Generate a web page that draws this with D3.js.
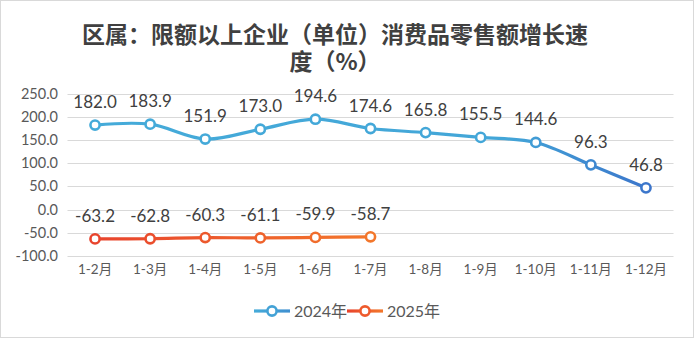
<!DOCTYPE html>
<html><head><meta charset="utf-8">
<script src="https://cdn.jsdelivr.net/npm/d3@7"></script>
<style>
html,body{margin:0;padding:0;background:#fff;}
svg{display:block;}
</style></head>
<body>
<svg id="chart" width="694" height="338"></svg>
<script>
const categories = ["1-2月","1-3月","1-4月","1-5月","1-6月","1-7月","1-8月","1-9月","1-10月","1-11月","1-12月"];
const values2024 = [182.0,183.9,151.9,173.0,194.6,174.6,165.8,155.5,144.6,96.3,46.8];
const values2025 = [-63.2,-62.8,-60.3,-61.1,-59.9,-58.7];
const yTicks = [-100,-50,0,50,100,150,200,250];
const seriesNames = ["2024年","2025年"];
const titleLines = ["区属：限额以上企业（单位）消费品零售额增长速","度（%）"];

const svg = d3.select("#chart");
const W = 694, H = 338;
const font = "Lato, 'Noto Sans CJK SC', sans-serif";
const fmt = d => (+d).toFixed(1);

svg.append("rect").attr("x",0.5).attr("y",0.5).attr("width",W-1).attr("height",H-1)
  .attr("fill","#fff").attr("stroke","#d9d9d9");

const defs = svg.append("defs");
const gBlue = defs.append("linearGradient").attr("id","gBlue").attr("gradientUnits","userSpaceOnUse")
  .attr("x1",68).attr("x2",675).attr("y1",0).attr("y2",0);
gBlue.append("stop").attr("offset","0").attr("stop-color","#45abd9");
gBlue.append("stop").attr("offset","0.72").attr("stop-color","#43a6d8");
gBlue.append("stop").attr("offset","1").attr("stop-color","#3a6cc8");
const gRed = defs.append("linearGradient").attr("id","gRed").attr("gradientUnits","userSpaceOnUse")
  .attr("x1",90).attr("x2",380).attr("y1",0).attr("y2",0);
gRed.append("stop").attr("offset","0").attr("stop-color","#e8432d");
gRed.append("stop").attr("offset","1").attr("stop-color","#f3782b");

const x = d3.scaleBand().domain(categories).range([67.5, 673.5]);
const y = d3.scaleLinear().domain([-100,250]).range([256,93.5]);
const cx = d => x(d) + x.bandwidth()/2;

// gridlines
svg.append("g").selectAll("line").data(yTicks).join("line")
  .attr("x1",67.5).attr("x2",673.5)
  .attr("y1",d=>Math.round(y(d))+0.5).attr("y2",d=>Math.round(y(d))+0.5)
  .attr("stroke","#d9d9d9").attr("stroke-width",1);

// y axis labels
const yAxis = d3.axisLeft(y).tickValues(yTicks).tickFormat(fmt).tickSize(0).tickPadding(0);
const ya = svg.append("g").attr("transform","translate(58,0)").call(yAxis);
ya.select(".domain").remove();
ya.selectAll("text").attr("font-family",font).attr("font-size",14.5).attr("fill","#595959");

// x axis labels
const xAxis = d3.axisBottom(x).tickSize(0).tickPadding(0);
const xa = svg.append("g").attr("transform","translate(0,264)").call(xAxis);
xa.select(".domain").remove();
xa.selectAll("text").attr("font-family",font).attr("font-size",13.5).attr("fill","#595959");

// title
const title = svg.append("text").attr("text-anchor","middle")
  .attr("font-family","'Noto Sans CJK SC', sans-serif").attr("font-weight","bold")
  .attr("font-size",23).attr("fill","#404040");
title.selectAll("tspan").data(titleLines).join("tspan")
  .attr("x",335).attr("y",(d,i)=>43+i*26.5).text(d=>d);

const line = d3.line().curve(d3.curveCatmullRom.alpha(0.5));

function drawSeries(vals, color) {
  const pts = vals.map((v,i)=>[cx(categories[i]), y(v)]);
  svg.append("path").attr("d",line(pts)).attr("fill","none")
    .attr("stroke",color).attr("stroke-width",3.2).attr("stroke-linecap","round");
  svg.append("g").selectAll("circle").data(pts).join("circle")
    .attr("cx",d=>d[0]).attr("cy",d=>d[1]).attr("r",4.6)
    .attr("fill","#fff").attr("stroke",color).attr("stroke-width",2.6);
  svg.append("g").selectAll("text").data(vals).join("text")
    .attr("x",(d,i)=>cx(categories[i])).attr("y",d=>y(d)-17)
    .attr("text-anchor","middle").attr("font-family",font).attr("font-size",17)
    .attr("fill","#404040").text(fmt);
}
drawSeries(values2024, "url(#gBlue)");
drawSeries(values2025, "url(#gRed)");

// legend
const legend = [
  {name: seriesNames[0], c1:"#45abd9", c2:"#3f8fd0", mc:"#43a2d6", x:254},
  {name: seriesNames[1], c1:"#e8432d", c2:"#f3782b", mc:"#ee5a2c", x:347}
];
legend.forEach((l,i)=>{
  const g = svg.append("g").attr("transform",`translate(${l.x},311)`);
  const gid = "lg"+i;
  const lg = defs.append("linearGradient").attr("id",gid).attr("gradientUnits","userSpaceOnUse")
    .attr("x1",0).attr("x2",36).attr("y1",0).attr("y2",0);
  lg.append("stop").attr("offset","0").attr("stop-color",l.c1);
  lg.append("stop").attr("offset","1").attr("stop-color",l.c2);
  g.append("rect").attr("x",0).attr("y",-1.6).attr("width",36).attr("height",3.2)
    .attr("fill",`url(#${gid})`);
  g.append("circle").attr("cx",18).attr("cy",0).attr("r",4.6).attr("fill","#fff")
    .attr("stroke",l.mc).attr("stroke-width",2.6);
  g.append("text").attr("x",40).attr("y",5.5).attr("font-family",font).attr("font-size",16)
    .attr("fill","#595959").text(l.name);
});
</script>
</body></html>
